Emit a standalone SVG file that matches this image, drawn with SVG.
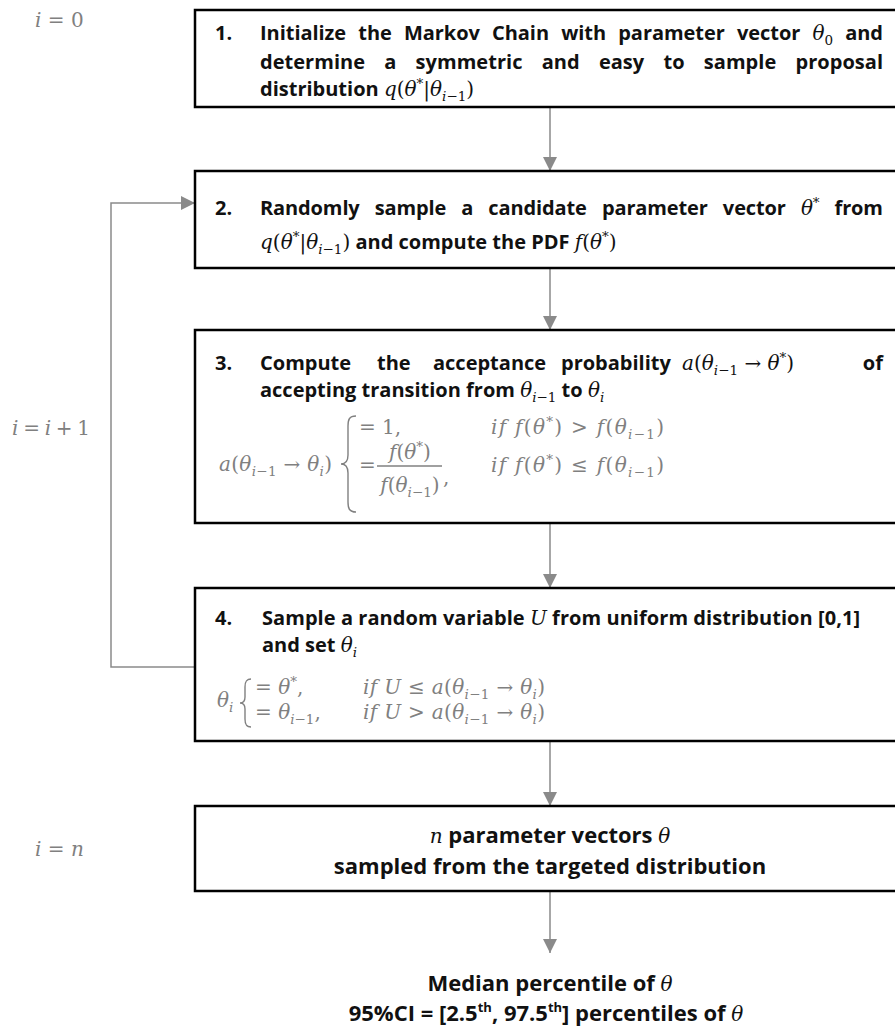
<svg xmlns="http://www.w3.org/2000/svg" width="895" height="1028" viewBox="0 0 895 1028">
<style>
.t{font-family:"Open Sans",Lato,sans-serif;font-weight:700;font-size:20px;fill:#111}
.tb{font-family:"Open Sans",Lato,sans-serif;font-weight:700;font-size:22px;fill:#111}
.m{font-family:"DejaVu Serif",serif;font-size:20px;font-weight:400;font-style:normal}
.mi{font-family:"DejaVu Serif",serif;font-style:italic;font-weight:400;font-size:20px}
.ms{font-family:"DejaVu Serif",serif;font-style:normal;font-weight:400;font-size:13.5px}
.msi{font-family:"DejaVu Serif",serif;font-style:italic;font-weight:400;font-size:13.5px}
.g{fill:#808080}
.box{fill:#fff;stroke:#000;stroke-width:2.5}
.con{fill:none;stroke:#8a8a8a;stroke-width:1.5}
.br{fill:none;stroke:#808080;stroke-width:1.4}
</style>
<defs>
<marker id="ah" markerUnits="userSpaceOnUse" markerWidth="14" markerHeight="14" viewBox="0 0 14 14" refX="14" refY="7" orient="auto">
<path d="M0,0 L14,7 L0,14 Z" fill="#8a8a8a"/>
</marker>
</defs>
<rect width="895" height="1028" fill="#fff"/>

<g id="labels">
<text class="m g" x="35" y="27"><tspan class="mi">i</tspan> = 0</text>
<text class="m g" x="12" y="435" textLength="78" lengthAdjust="spacing"><tspan class="mi">i</tspan> = <tspan class="mi">i</tspan> + 1</text>
<text class="m g" x="35" y="856"><tspan class="mi">i</tspan> = <tspan class="mi">n</tspan></text>
</g>

<g id="connectors">
<line class="con" x1="550" y1="107" x2="550" y2="171" marker-end="url(#ah)"/>
<line class="con" x1="550" y1="268" x2="550" y2="330" marker-end="url(#ah)"/>
<line class="con" x1="550" y1="523" x2="550" y2="588" marker-end="url(#ah)"/>
<line class="con" x1="550" y1="741" x2="550" y2="806" marker-end="url(#ah)"/>
<line class="con" x1="550" y1="891" x2="550" y2="953" marker-end="url(#ah)"/>
<path class="con" d="M195,667 L111,667 L111,203 L195,203" marker-end="url(#ah)"/>
</g>

<g id="step1">
<rect class="box" x="195" y="10" width="720" height="97"/>
<text class="t" x="215" y="40">1.</text>
<text class="t" x="260" y="40" word-spacing="7" textLength="623" lengthAdjust="spacing">Initialize the Markov Chain with parameter vector <tspan class="mi">θ</tspan><tspan class="ms" dy="5">0</tspan><tspan dy="-5"> and</tspan></text>
<text class="t" x="260" y="69" word-spacing="14" textLength="623" lengthAdjust="spacing">determine a symmetric and easy to sample proposal</text>
<text class="t" x="260" y="96">distribution <tspan class="mi">q</tspan><tspan class="m">(</tspan><tspan class="mi">θ</tspan><tspan class="ms" dy="-8">*</tspan><tspan class="m" dy="8">|</tspan><tspan class="mi">θ</tspan><tspan class="msi" dy="5">i</tspan><tspan class="ms">−1</tspan><tspan class="m" dy="-5">)</tspan></text>
</g>

<g id="step2">
<rect class="box" x="195" y="171" width="720" height="97"/>
<text class="t" x="215" y="215">2.</text>
<text class="t" x="260" y="215" word-spacing="10" textLength="623" lengthAdjust="spacing">Randomly sample a candidate parameter vector <tspan class="mi">θ</tspan><tspan class="ms" dy="-8">*</tspan><tspan dy="8"> from</tspan></text>
<text class="t" x="260" y="249"><tspan class="mi">q</tspan><tspan class="m">(</tspan><tspan class="mi">θ</tspan><tspan class="ms" dy="-8">*</tspan><tspan class="m" dy="8">|</tspan><tspan class="mi">θ</tspan><tspan class="msi" dy="5">i</tspan><tspan class="ms">−1</tspan><tspan class="m" dy="-5">)</tspan> and compute the PDF <tspan class="mi">f</tspan><tspan class="m">(</tspan><tspan class="mi">θ</tspan><tspan class="ms" dy="-8">*</tspan><tspan class="m" dy="8">)</tspan></text>
</g>

<g id="step3">
<rect class="box" x="195" y="330" width="720" height="193"/>
<text class="t" x="215" y="370">3.</text>
<text class="t" y="370"><tspan x="260">Compute</tspan><tspan x="377">the</tspan><tspan x="433">acceptance</tspan><tspan x="561">probability</tspan><tspan x="682" class="mi">a</tspan><tspan class="m">(</tspan><tspan class="mi">θ</tspan><tspan class="msi" dy="5">i</tspan><tspan class="ms">−1</tspan><tspan class="m" dy="-5"> → </tspan><tspan class="mi">θ</tspan><tspan class="ms" dy="-8">*</tspan><tspan class="m" dy="8">)</tspan></text>
<text class="t" x="883" y="370" text-anchor="end">of</text>
<text class="t" x="260" y="397">accepting transition from <tspan class="mi">θ</tspan><tspan class="msi" dy="5">i</tspan><tspan class="ms">−1</tspan><tspan dy="-5"> to </tspan><tspan class="mi">θ</tspan><tspan class="msi" dy="5">i</tspan></text>
<text class="m g" x="219" y="471" textLength="113" lengthAdjust="spacing"><tspan class="mi">a</tspan>(<tspan class="mi">θ</tspan><tspan class="msi" dy="5">i</tspan><tspan class="ms">−1</tspan><tspan dy="-5"> → </tspan><tspan class="mi">θ</tspan><tspan class="msi" dy="5">i</tspan><tspan dy="-5">)</tspan></text>
<path class="br" d="M356,416 C349,416 348,420 348,426 L348,455 C348,461 345,464 341,464 C345,464 348,467 348,473 L348,502 C348,508 349,512 356,512"/>
<text class="m g" x="359" y="434">= 1,</text>
<text class="m g" x="491" y="434" textLength="173" lengthAdjust="spacing"><tspan class="mi">if f</tspan>(<tspan class="mi">θ</tspan><tspan class="ms" dy="-8">*</tspan><tspan dy="8">) &gt; </tspan><tspan class="mi">f</tspan>(<tspan class="mi">θ</tspan><tspan class="msi" dy="5">i</tspan><tspan class="ms">−1</tspan><tspan dy="-5">)</tspan></text>
<text class="m g" x="359" y="472">=</text>
<text class="m g" x="410" y="459" text-anchor="middle"><tspan class="mi">f</tspan>(<tspan class="mi">θ</tspan><tspan class="ms" dy="-8">*</tspan><tspan dy="8">)</tspan></text>
<line x1="377" y1="466" x2="442" y2="466" stroke="#808080" stroke-width="1.3"/>
<text class="m g" x="410" y="492" text-anchor="middle"><tspan class="mi">f</tspan>(<tspan class="mi">θ</tspan><tspan class="msi" dy="5">i</tspan><tspan class="ms">−1</tspan><tspan dy="-5">)</tspan></text>
<text class="m g" x="443" y="484">,</text>
<text class="m g" x="491" y="472" textLength="173" lengthAdjust="spacing"><tspan class="mi">if f</tspan>(<tspan class="mi">θ</tspan><tspan class="ms" dy="-8">*</tspan><tspan dy="8">) ≤ </tspan><tspan class="mi">f</tspan>(<tspan class="mi">θ</tspan><tspan class="msi" dy="5">i</tspan><tspan class="ms">−1</tspan><tspan dy="-5">)</tspan></text>
</g>

<g id="step4">
<rect class="box" x="195" y="588" width="720" height="153"/>
<text class="t" x="215" y="625">4.</text>
<text class="t" x="262" y="625" textLength="598" lengthAdjust="spacing">Sample a random variable <tspan class="mi">U</tspan> from uniform distribution [0,1]</text>
<text class="t" x="262" y="652">and set <tspan class="mi">θ</tspan><tspan class="msi" dy="5">i</tspan></text>
<text class="m g" x="217" y="707"><tspan class="mi">θ</tspan><tspan class="msi" dy="5">i</tspan></text>
<path class="br" d="M251,679 C246,679 245,682 245,687 L245,697 C245,701 243,703 240,703 C243,703 245,705 245,709 L245,719 C245,724 246,727 251,727"/>
<text class="m g" x="255" y="694">= <tspan class="mi">θ</tspan><tspan class="ms" dy="-8">*</tspan><tspan dy="8">,</tspan></text>
<text class="m g" x="363" y="694" textLength="182" lengthAdjust="spacing"><tspan class="mi">if U</tspan> ≤ <tspan class="mi">a</tspan>(<tspan class="mi">θ</tspan><tspan class="msi" dy="5">i</tspan><tspan class="ms">−1</tspan><tspan dy="-5"> → </tspan><tspan class="mi">θ</tspan><tspan class="msi" dy="5">i</tspan><tspan dy="-5">)</tspan></text>
<text class="m g" x="255" y="719">= <tspan class="mi">θ</tspan><tspan class="msi" dy="5">i</tspan><tspan class="ms">−1</tspan><tspan dy="-5">,</tspan></text>
<text class="m g" x="363" y="719" textLength="182" lengthAdjust="spacing"><tspan class="mi">if U</tspan> &gt; <tspan class="mi">a</tspan>(<tspan class="mi">θ</tspan><tspan class="msi" dy="5">i</tspan><tspan class="ms">−1</tspan><tspan dy="-5"> → </tspan><tspan class="mi">θ</tspan><tspan class="msi" dy="5">i</tspan><tspan dy="-5">)</tspan></text>
</g>

<g id="result">
<rect class="box" x="195" y="806" width="720" height="85"/>
<text class="tb" x="550" y="843" text-anchor="middle"><tspan class="mi" font-size="21">n</tspan> parameter vectors <tspan class="mi" font-size="21">θ</tspan></text>
<text class="tb" x="550" y="874" text-anchor="middle">sampled from the targeted distribution</text>
</g>

<g id="summary">
<text class="tb" x="550" y="991" text-anchor="middle">Median percentile of <tspan class="mi" font-size="21">θ</tspan></text>
<text class="tb" x="546" y="1021" text-anchor="middle">95%CI = [2.5<tspan font-size="13" dy="-9">th</tspan><tspan dy="9">, 97.5</tspan><tspan font-size="13" dy="-9">th</tspan><tspan dy="9">] percentiles of </tspan><tspan class="mi" font-size="21">θ</tspan></text>
</g>
</svg>
